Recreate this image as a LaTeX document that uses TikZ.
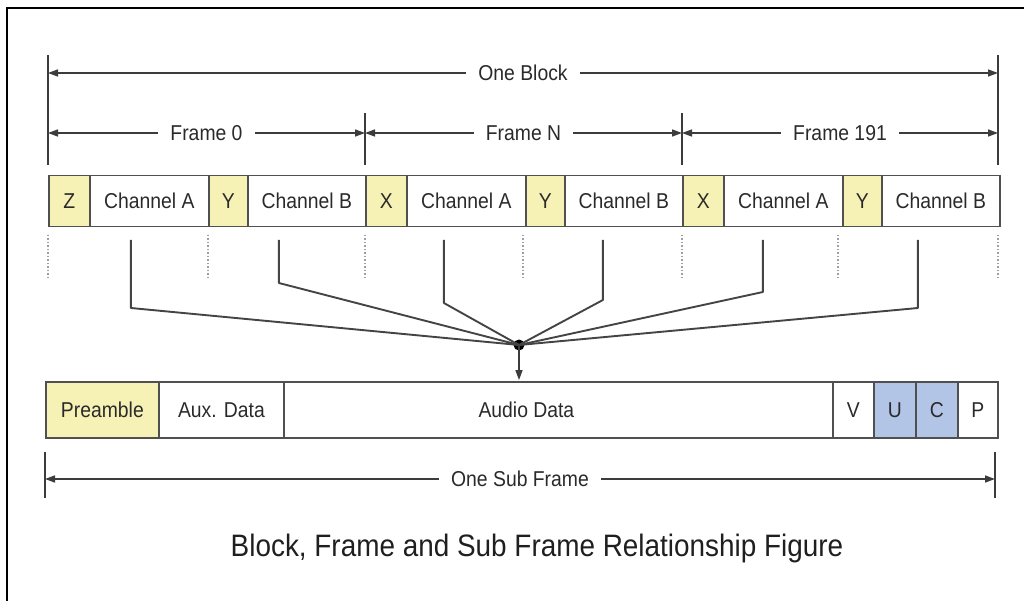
\documentclass[tikz,border=0pt]{standalone}
\usepackage{fontspec}
\setmainfont{Liberation Sans}
\newfontfamily\narrowsans{Liberation Sans}[FakeStretch=0.9]
\usetikzlibrary{arrows.meta,calc}

\definecolor{pale}{HTML}{F6F1B4}
\definecolor{paleblue}{HTML}{B3C5E6}
\definecolor{cellline}{HTML}{505050}
\definecolor{dimline}{HTML}{3C3C3C}
\definecolor{feedline}{HTML}{444444}
\definecolor{txt}{HTML}{2A2A2A}

\newcommand{\lbl}{\narrowsans\fontsize{21.5}{25}\selectfont}
\newcommand{\ttl}{\narrowsans\fontsize{31}{36}\selectfont}

\begin{document}
\begin{tikzpicture}[x=1pt,y=-1pt,
  cell/.style={draw=cellline, line width=1.8pt, minimum height=51pt,
    inner sep=0pt, anchor=west, font=\lbl, text=txt},
  ycell/.style={cell, fill=pale},
  subcell/.style={cell, minimum height=56pt},
  dim/.style={draw=dimline, line width=1.5pt, {Triangle[length=10pt,width=7pt]}-{Triangle[length=10pt,width=7pt]}},
  dimtick/.style={draw=dimline, line width=1.5pt},
  dimlabel/.style={fill=white, inner xsep=12pt, inner ysep=2pt, font=\lbl, text=txt},
  guide/.style={draw=gray!75, line width=1.1pt, dash pattern=on 1.5pt off 2pt},
  feed/.style={draw=feedline, line width=1.9pt, line join=round},
]
\useasboundingbox (0,0) rectangle (1024,601);

% page border
\draw[line width=1.6pt] (7,601) -- (7,8) -- (1024,8);

% ---- block row: three frames ----
\foreach \i/\s/\p in {0/48/Z,1/365/X,2/682/X}{
  \node[ycell, minimum width=41pt]  (pa\i)  at (\s,201)     {\p};
  \node[cell,  minimum width=119pt] (cha\i) at (\s+41,201)  {Channel A};
  \node[ycell, minimum width=39pt]  (pb\i)  at (\s+160,201) {Y};
  \node[cell,  minimum width=118pt] (chb\i) at (\s+199,201) {Channel B};
}

% ---- dimension ticks ----
\coordinate (blt) at (48,55);   \coordinate (blb) at (48,165);
\coordinate (brt) at (998,55);  \coordinate (brb) at (998,165);
\coordinate (f1t) at (365,113); \coordinate (f1b) at (365,165);
\coordinate (f2t) at (682,113); \coordinate (f2b) at (682,165);
\draw[dimtick] (blt) -- (blb);
\draw[dimtick] (brt) -- (brb);
\draw[dimtick] (f1t) -- (f1b);
\draw[dimtick] (f2t) -- (f2b);

% one block
\draw[dim] (blt |- 0,73) -- (brt |- 0,73) node[midway, dimlabel] {One Block};
% frames
\draw[dim] (blt |- 0,133) -- (f1t |- 0,133) node[midway, dimlabel] {Frame 0};
\draw[dim] (f1t |- 0,133) -- (f2t |- 0,133) node[midway, dimlabel] {Frame N};
\draw[dim] (f2t |- 0,133) -- (brt |- 0,133) node[midway, dimlabel] {Frame 191};

% ---- dotted guides under the preamble boundaries ----
\foreach \x in {48,208,365,523,682,838,998}
  \draw[guide] (\x,235) -- (\x,280);

% ---- junction and feeder lines ----
\node[circle, fill=black, inner sep=0pt, minimum size=11pt] (j) at (519,345) {};
\foreach \n/\dx/\b in {cha0/-18.5/308, chb0/-28/283, cha1/-22.5/303,
                      chb1/-21/300, cha2/-20.5/292, chb2/-23/308}{
  \coordinate (t\n) at ([xshift=\dx pt, yshift=-12.5pt]\n.south);
  \draw[feed] (t\n) -- (t\n |- 0,\b) -- (j.center);
}

% ---- sub frame row ----
\node[subcell, fill=pale, minimum width=113pt] (pre) at (45,410)  {Preamble};
\node[subcell, minimum width=125pt] (aux)   at (158,410) {Aux. Data};
\node[subcell, minimum width=549pt,
      label={[font=\lbl, text=txt, xshift=-32pt]center:Audio Data}] (audio) at (283,410) {};
\node[subcell, minimum width=41pt] (v)     at (832,410) {V};
\node[subcell, fill=paleblue, minimum width=42pt] (u) at (873,410) {U};
\node[subcell, fill=paleblue, minimum width=42pt] (c) at (915,410) {C};
\node[subcell, minimum width=40pt] (p)     at (957,410) {P};

\draw[draw=dimline, line width=1.5pt, -{Triangle[length=10pt,width=7pt]}]
  (j.center) -- ([yshift=1pt]j |- audio.north);

% one sub frame
\coordinate (slt) at (45,452);  \coordinate (slb) at (45,498);
\coordinate (srt) at (995,452); \coordinate (srb) at (995,498);
\draw[dimtick] (slt) -- (slb);
\draw[dimtick] (srt) -- (srb);
\draw[dim] (slt |- 0,479) -- (srt |- 0,479) node[midway, dimlabel] {One Sub Frame};

% caption
\node[font=\ttl, text=black!88] (title) at (537,548) {Block, Frame and Sub Frame Relationship Figure};
\end{tikzpicture}
\end{document}
